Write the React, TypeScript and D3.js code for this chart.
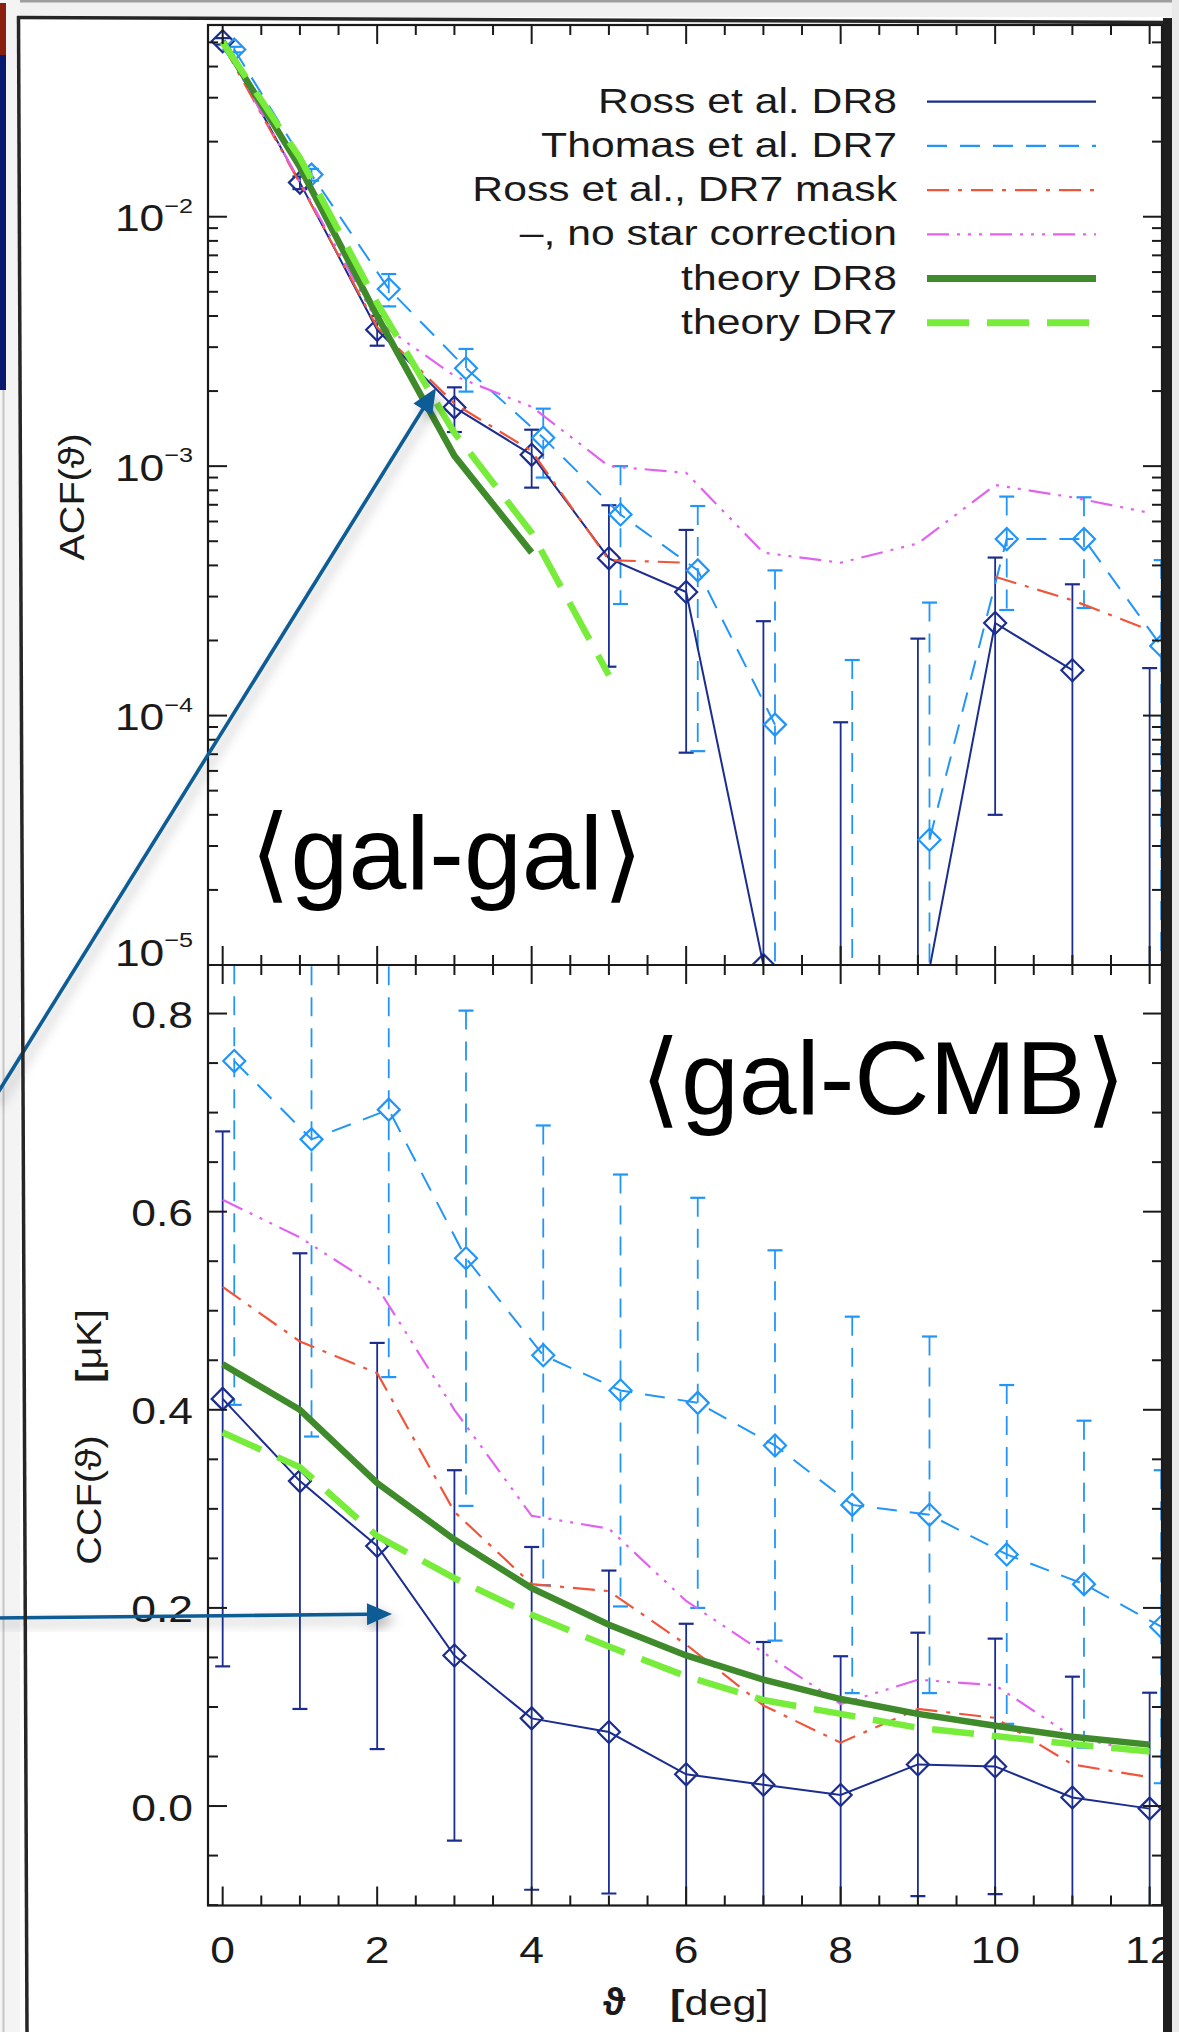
import React from "react";
import * as d3 from "d3";

// ---------- data ----------
const thetaRoss = [0, 1, 2, 3, 4, 5, 6, 7, 8, 9, 10, 11, 12];
const thetaThomas = [0.15, 1.15, 2.15, 3.15, 4.15, 5.15, 6.15, 7.15, 8.15, 9.15, 10.15, 11.15, 12.15];
const thetaTheoryAcfDR8 = [0, 1, 2, 3, 4];
const thetaTheoryAcfDR7 = [0, 1, 2, 3, 4, 5];

// ACF (top panel, log axis). Negative values are not drawn on the log axis.
const acfRossDR8 = [0.0505, 0.0137, 0.00352, 0.00172, 0.00111, 4.27e-4, 3.13e-4, 1.0e-5, -1.2e-4, 5.5e-6, 2.35e-4, 1.52e-4, -2.5e-5];
const acfRossDR8Err = [0.0015, 0.0008, 0.00048, 0.00035, 0.00029, 2.7e-4, 2.42e-4, 2.29e-4, 2.14e-4, 1.98e-4, 1.95e-4, 1.84e-4, 1.8e-4];
const acfThomasDR7 = [0.0468, 0.01475, 0.00513, 0.00247, 0.0013, 6.4e-4, 3.82e-4, 9.2e-5, -1.0e-4, 3.18e-5, 5.1e-4, 5.1e-4, 1.9e-4];
const acfThomasDR7Err = [0.0012, 0.0008, 0.00076, 0.00048, 0.0004, 3.6e-4, 3.1e-4, 2.9e-4, 2.67e-4, 2.52e-4, 2.45e-4, 2.4e-4, 2.3e-4];
const acfRossDR7Mask = [0.049, 0.0136, 0.0036, 0.00178, 0.00115, 4.2e-4, 4.1e-4, null, null, null, 3.6e-4, 2.9e-4, 2.2e-4];
const acfNoStarCorr = [0.05, 0.0138, 0.0038, 0.0023, 0.00173, 0.001, 0.00094, 0.00045, 0.00041, 0.00049, 0.00084, 0.00075, 0.00065];
const acfTheoryDR8 = [0.0505, 0.0158, 0.004, 0.0011, 0.00045];
const acfTheoryDR7 = [0.05, 0.0172, 0.0045, 0.00136, 0.00054, 0.000145];

// CCF (bottom panel, µK)
const ccfRossDR8 = [0.411, 0.328, 0.2625, 0.152, 0.0885, 0.0747, 0.032, 0.0216, 0.0112, 0.042, 0.04, 0.0086, -0.0026];
const ccfRossDR8Err = [0.27, 0.23, 0.205, 0.187, 0.173, 0.163, 0.152, 0.144, 0.14, 0.133, 0.129, 0.122, 0.117];
const ccfThomasDR7 = [0.752, 0.673, 0.703, 0.553, 0.455, 0.4195, 0.407, 0.364, 0.304, 0.294, 0.254, 0.224, 0.181];
const ccfThomasDR7Err = [0.347, 0.3, 0.27, 0.25, 0.232, 0.218, 0.207, 0.197, 0.19, 0.18, 0.171, 0.165, 0.158];
const ccfRossDR7Mask = [0.524, 0.469, 0.437, 0.297, 0.224, 0.217, 0.163, 0.1015, 0.064, 0.098, 0.089, 0.042, 0.029];
const ccfNoStarCorr = [0.612, 0.574, 0.524, 0.4, 0.293, 0.28, 0.207, 0.155, 0.103, 0.1275, 0.122, 0.07, 0.053];
const ccfTheoryDR8 = [0.446, 0.4, 0.326, 0.269, 0.22, 0.183, 0.152, 0.1275, 0.108, 0.093, 0.081, 0.07, 0.062];
const ccfTheoryDR7 = [0.377, 0.342, 0.2725, 0.23, 0.193, 0.161, 0.131, 0.107, 0.093, 0.079, 0.0706, 0.0625, 0.055];

// ticks / labels
const thetaTickLabels = [0, 2, 4, 6, 8, 10, 12];
const acfTickExponents = [-2, -3, -4, -5];
const ccfTickLabels = [0.0, 0.2, 0.4, 0.6, 0.8];
const legendLabels = [
  "Ross et al. DR8",
  "Thomas et al. DR7",
  "Ross et al., DR7 mask",
  "\u2013, no star correction",
  "theory DR8",
  "theory DR7",
];

// ---------- styles ----------
const COL = {
  navy: "#1b2d8f",
  sky: "#2196f8",
  red: "#f0553a",
  magenta: "#e262f0",
  dkgreen: "#3f8a2a",
  ltgreen: "#78ec3a",
  axis: "#1a1a1a",
  arrow: "#0d5b95",
};
const DASH = {
  sky: "20,13",
  skyErr: "19,12",
  red: "22,9,4,9",
  magenta: "22,8,3,8,3,8,3,8",
  ltgreen: "42,18",
};
const FONT = "'Liberation Sans', Arial, Helvetica, sans-serif";
const legendStyles = [
  { c: COL.navy, w: 2.2, d: undefined },
  { c: COL.sky, w: 2.2, d: DASH.sky },
  { c: COL.red, w: 2.2, d: DASH.red },
  { c: COL.magenta, w: 2.2, d: DASH.magenta },
  { c: COL.dkgreen, w: 7, d: undefined },
  { c: COL.ltgreen, w: 7, d: DASH.ltgreen },
];

export default function App() {
  const W = 1179, H = 2032;
  const L = 208, R = 1162, T = 25, MID = 965, B = 1905.5;

  const x = d3.scaleLinear().domain([-0.19, 12.16]).range([L, R]);
  const yA = d3.scaleLog().domain([1e-5, 0.0587]).range([MID, T]);
  const yC = d3.scaleLinear().domain([-0.1004, 0.849]).range([B, MID]);

  const lineLog = (xs: number[], ys: (number | null)[]) =>
    d3
      .line<number>()
      .defined((_, i) => ys[i] != null && (ys[i] as number) > 0)
      .x((_, i) => x(xs[i]))
      .y((_, i) => yA(ys[i] as number))(xs.map((_, i) => i)) || "";

  const lineLin = (xs: number[], ys: number[]) =>
    d3
      .line<number>()
      .x((i) => x(xs[i]))
      .y((i) => yC(ys[i]))(xs.map((_, i) => i)) || "";

  const diamond = (cx: number, cy: number, s = 11) =>
    `M${cx},${cy - s}L${cx + s},${cy}L${cx},${cy + s}L${cx - s},${cy}Z`;

  const capW = 7.5;

  const errLog = (xs: number[], vs: number[], es: number[], color: string, dash?: string) =>
    xs.map((xv, i) => {
      const hi = vs[i] + es[i];
      const lo = vs[i] - es[i];
      const px = x(xv);
      const yHi = yA(hi);
      const yLo = lo > 0 ? yA(lo) : MID + 30;
      return (
        <g key={"el" + i} stroke={color} strokeWidth={1.8} fill="none">
          <line x1={px} x2={px} y1={yHi} y2={yLo} strokeDasharray={dash} />
          <line x1={px - capW} x2={px + capW} y1={yHi} y2={yHi} strokeWidth={2.2} />
          {lo > 0 && <line x1={px - capW} x2={px + capW} y1={yLo} y2={yLo} strokeWidth={2.2} />}
        </g>
      );
    });

  const errLin = (xs: number[], vs: number[], es: number[], color: string, dash?: string) =>
    xs.map((xv, i) => {
      const px = x(xv);
      const yHi = yC(vs[i] + es[i]);
      const yLo = yC(vs[i] - es[i]);
      return (
        <g key={"ec" + i} stroke={color} strokeWidth={1.8} fill="none">
          <line x1={px} x2={px} y1={yHi} y2={yLo} strokeDasharray={dash} />
          <line x1={px - capW} x2={px + capW} y1={yHi} y2={yHi} strokeWidth={2.2} />
          <line x1={px - capW} x2={px + capW} y1={yLo} y2={yLo} strokeWidth={2.2} />
        </g>
      );
    });

  const diamondsLog = (xs: number[], vs: number[], color: string) =>
    xs.map((xv, i) =>
      vs[i] > 0 ? (
        <path key={"dl" + i} d={diamond(x(xv), yA(vs[i]))} fill="none" stroke={color} strokeWidth={2.2} />
      ) : null
    );
  const diamondsLin = (xs: number[], vs: number[], color: string) =>
    xs.map((xv, i) => (
      <path key={"dc" + i} d={diamond(x(xv), yC(vs[i]))} fill="none" stroke={color} strokeWidth={2.2} />
    ));

  // ticks
  const xMajor = d3.range(0, 12.01, 2);
  const xMinor = d3.range(0, 12.01, 0.5).filter((v) => Math.abs(v / 2 - Math.round(v / 2)) > 1e-6);
  const acfMajor = acfTickExponents.map((e) => Math.pow(10, e));
  const acfMinor: number[] = [];
  for (let e = -5; e <= -2; e++) for (let k = 2; k <= 9; k++) {
    const v = k * Math.pow(10, e);
    if (v < 0.0587) acfMinor.push(v);
  }
  const ccfAll = d3.range(-2, 17).map((i) => i * 0.05);
  const ccfMajor = ccfAll.filter((_, j) => (j - 2) % 4 === 0);
  const ccfMinor = ccfAll.filter((_, j) => (j - 2) % 4 !== 0);

  const MAJ = 19, MIN = 10;
  const tk = (x1: number, y1: number, x2: number, y2: number, k: string) => (
    <line key={k} x1={x1} y1={y1} x2={x2} y2={y2} stroke={COL.axis} strokeWidth={2} />
  );

  const ticks: any[] = [];
  xMajor.forEach((v, i) => {
    const px = x(v);
    ticks.push(tk(px, T, px, T + MAJ, "xt" + i));
    ticks.push(tk(px, MID, px, MID - MAJ, "xm1" + i));
    ticks.push(tk(px, MID, px, MID + MAJ, "xm2" + i));
    ticks.push(tk(px, B, px, B - MAJ, "xb" + i));
  });
  xMinor.forEach((v, i) => {
    const px = x(v);
    ticks.push(tk(px, T, px, T + MIN, "xtn" + i));
    ticks.push(tk(px, MID, px, MID - MIN, "xm1n" + i));
    ticks.push(tk(px, MID, px, MID + MIN, "xm2n" + i));
    ticks.push(tk(px, B, px, B - MIN, "xbn" + i));
  });
  acfMajor.forEach((v, i) => {
    const py = yA(v);
    ticks.push(tk(L, py, L + MAJ, py, "al" + i));
    ticks.push(tk(R, py, R - MAJ, py, "ar" + i));
  });
  acfMinor.forEach((v, i) => {
    const py = yA(v);
    ticks.push(tk(L, py, L + MIN, py, "aln" + i));
    ticks.push(tk(R, py, R - MIN, py, "arn" + i));
  });
  ccfMajor.forEach((v, i) => {
    const py = yC(v);
    ticks.push(tk(L, py, L + MAJ, py, "cl" + i));
    ticks.push(tk(R, py, R - MAJ, py, "cr" + i));
  });
  ccfMinor.forEach((v, i) => {
    const py = yC(v);
    ticks.push(tk(L, py, L + MIN, py, "cln" + i));
    ticks.push(tk(R, py, R - MIN, py, "crn" + i));
  });

  const SX = 1.2; // horizontal stretch of the plot lettering

  // arrows
  const arrow = (x0: number, y0: number, tx: number, ty: number, k: string) => {
    const dx = tx - x0, dy = ty - y0;
    const len = Math.hypot(dx, dy);
    const ux = dx / len, uy = dy / len;
    const hl = 25, hw = 11;
    const bx = tx - hl * ux, by = ty - hl * uy;
    const nx = -uy, ny = ux;
    return (
      <g key={k} filter="url(#shadow)">
        <line x1={x0} y1={y0} x2={bx + ux * 2} y2={by + uy * 2} stroke={COL.arrow} strokeWidth={3.6} />
        <polygon
          points={`${tx},${ty} ${bx + nx * hw},${by + ny * hw} ${bx - nx * hw},${by - ny * hw}`}
          fill={COL.arrow}
        />
      </g>
    );
  };

  const legendRowY = (i: number) => 101.7 + i * 44.2;

  return (
    <svg
      width={W}
      height={H}
      viewBox={`0 0 ${W} ${H}`}
      style={{ position: "absolute", left: 0, top: 0, display: "block", background: "#fff" }}
      fontFamily={FONT}
    >
      <defs>
        <clipPath id="clipA">
          <rect x={L} y={T} width={R - L} height={MID - T} />
        </clipPath>
        <clipPath id="clipC">
          <rect x={L} y={MID} width={R - L} height={B - MID} />
        </clipPath>
        <filter id="shadow" x="-30%" y="-30%" width="160%" height="160%">
          <feDropShadow dx="4" dy="6" stdDeviation="6" floodColor="#000" floodOpacity="0.3" />
        </filter>
      </defs>

      {/* background / screenshot frame */}
      <rect x={0} y={0} width={W} height={H} fill="#ffffff" />
      <rect x={0} y={0} width={W} height={17} fill="#f1f1f1" />
      <rect x={0} y={0} width={W} height={2.5} fill="#9e9e9e" />
      <rect x={0} y={0} width={20} height={H} fill="#f4f4f4" />
      <rect x={0} y={3} width={6} height={52} fill="#8a1f10" />
      <rect x={0} y={55} width={6} height={335} fill="#0b1870" />
      <line x1={3.5} y1={390} x2={3.5} y2={H} stroke="#c6c6c6" strokeWidth={2} />

      {/* ---------- top panel data ---------- */}
      <g clipPath="url(#clipA)">
        {errLog(thetaRoss, acfRossDR8, acfRossDR8Err, COL.navy)}
        {errLog(thetaThomas, acfThomasDR7, acfThomasDR7Err, COL.sky, DASH.skyErr)}
        <path d={lineLog(thetaRoss, acfRossDR8)} fill="none" stroke={COL.navy} strokeWidth={2} />
        <path d={lineLog(thetaThomas, acfThomasDR7)} fill="none" stroke={COL.sky} strokeWidth={2} strokeDasharray={DASH.sky} />
        {diamondsLog(thetaRoss, acfRossDR8, COL.navy)}
        {diamondsLog(thetaThomas, acfThomasDR7, COL.sky)}
        <path d={lineLog(thetaRoss, acfRossDR7Mask)} fill="none" stroke={COL.red} strokeWidth={2.2} strokeDasharray={DASH.red} />
        <path d={lineLog(thetaRoss, acfNoStarCorr)} fill="none" stroke={COL.magenta} strokeWidth={2.2} strokeDasharray={DASH.magenta} />
        <path d={lineLog(thetaTheoryAcfDR8, acfTheoryDR8)} fill="none" stroke={COL.dkgreen} strokeWidth={6.5} />
        <path d={lineLog(thetaTheoryAcfDR7, acfTheoryDR7)} fill="none" stroke={COL.ltgreen} strokeWidth={6.5} strokeDasharray={DASH.ltgreen} />
      </g>

      {/* ---------- bottom panel data ---------- */}
      <g clipPath="url(#clipC)">
        {errLin(thetaRoss, ccfRossDR8, ccfRossDR8Err, COL.navy)}
        {errLin(thetaThomas, ccfThomasDR7, ccfThomasDR7Err, COL.sky, DASH.skyErr)}
        <path d={lineLin(thetaRoss, ccfRossDR8)} fill="none" stroke={COL.navy} strokeWidth={2} />
        <path d={lineLin(thetaThomas, ccfThomasDR7)} fill="none" stroke={COL.sky} strokeWidth={2} strokeDasharray={DASH.sky} />
        {diamondsLin(thetaRoss, ccfRossDR8, COL.navy)}
        {diamondsLin(thetaThomas, ccfThomasDR7, COL.sky)}
        <path d={lineLin(thetaRoss, ccfRossDR7Mask)} fill="none" stroke={COL.red} strokeWidth={2.2} strokeDasharray={DASH.red} />
        <path d={lineLin(thetaRoss, ccfNoStarCorr)} fill="none" stroke={COL.magenta} strokeWidth={2.2} strokeDasharray={DASH.magenta} />
        <path d={lineLin(thetaRoss, ccfTheoryDR8)} fill="none" stroke={COL.dkgreen} strokeWidth={6.5} />
        <path d={lineLin(thetaRoss, ccfTheoryDR7)} fill="none" stroke={COL.ltgreen} strokeWidth={6.5} strokeDasharray={DASH.ltgreen} />
      </g>

      {/* ---------- axes ---------- */}
      <rect x={L} y={T} width={R - L} height={B - T} fill="none" stroke={COL.axis} strokeWidth={2.2} />
      <line x1={L} x2={R} y1={MID} y2={MID} stroke={COL.axis} strokeWidth={2.2} />
      {ticks}

      {/* tick labels */}
      {acfTickExponents.map((e, i) => {
        const py = yA(Math.pow(10, e)) + (e === -5 ? -14 : 0);
        return (
          <text key={"al" + i} transform={`translate(193,${py + 14.5}) scale(${SX},1)`} textAnchor="end" fontSize={37} fill="#1a1a1a">
            <tspan>10</tspan>
            <tspan dy={-18.4} fontSize={21}>{"\u2212" + Math.abs(e)}</tspan>
          </text>
        );
      })}
      {ccfTickLabels.map((v, i) => (
        <text key={"cl" + i} transform={`translate(193,${yC(v) + 14.5}) scale(${SX},1)`} textAnchor="end" fontSize={37} fill="#1a1a1a">
          {v.toFixed(1)}
        </text>
      ))}
      {thetaTickLabels.map((v, i) => (
        <text key={"xl" + i} transform={`translate(${x(v)},1962.5) scale(${SX},1)`} textAnchor="middle" fontSize={37} fill="#1a1a1a">
          {v}
        </text>
      ))}

      {/* axis titles */}
      <text transform={`translate(84,497) rotate(-90) scale(1.1,1)`} textAnchor="middle" fontSize={36} fill="#1a1a1a">
        ACF(ϑ)
      </text>
      <text transform={`translate(101,1500) rotate(-90) scale(1.1,1)`} textAnchor="middle" fontSize={36} fill="#1a1a1a">
        CCF(ϑ)
      </text>
      <text transform={`translate(101,1346) rotate(-90) scale(1.1,1)`} textAnchor="middle" fontSize={36} fill="#1a1a1a">
        <tspan fontWeight="bold">[</tspan>μK]
      </text>
      <text x={614} y={2015} textAnchor="middle" fontSize={38} fontWeight="bold" fill="#1a1a1a">
        ϑ
      </text>
      <text transform={`translate(670,2015) scale(${SX},1)`} fontSize={36} fill="#1a1a1a">
        <tspan fontWeight="bold">[</tspan>deg]
      </text>

      {/* legend */}
      {legendLabels.map((lab, i) => {
        const y = legendRowY(i);
        const s = legendStyles[i];
        return (
          <g key={"lg" + i}>
            <text transform={`translate(897,${y + 11}) scale(1.22,1)`} textAnchor="end" fontSize={35} fill="#1a1a1a">
              {lab}
            </text>
            <line x1={927} x2={1096} y1={y} y2={y} stroke={s.c} strokeWidth={s.w} strokeDasharray={s.d} />
          </g>
        );
      })}

      {/* panel annotations */}
      <text x={250} y={889} fontSize={104} fill="#000" fontFamily="'Liberation Sans', 'DejaVu Sans', sans-serif">
        {"\u27E8gal-gal\u27E9"}
      </text>
      <text x={1126} y={1114} textAnchor="end" fontSize={104} fill="#000" fontFamily="'Liberation Sans', 'DejaVu Sans', sans-serif">
        {"\u27E8gal-CMB\u27E9"}
      </text>

      {/* arrows */}
      {arrow(-6, 1099, 436, 388, "a1")}
      {arrow(-6, 1618, 392, 1614, "a2")}

      {/* window frame */}
      <line x1={18.5} y1={16} x2={27} y2={H} stroke="#262626" strokeWidth={3.5} />
      <line x1={17} y1={17.5} x2={1170} y2={22.5} stroke="#262626" strokeWidth={3.5} />
      <rect x={1163} y={18} width={9} height={H - 18} fill="#1e1e1e" />
      <rect x={1172} y={0} width={7} height={H} fill="#e9e9e9" />
    </svg>
  );
}
